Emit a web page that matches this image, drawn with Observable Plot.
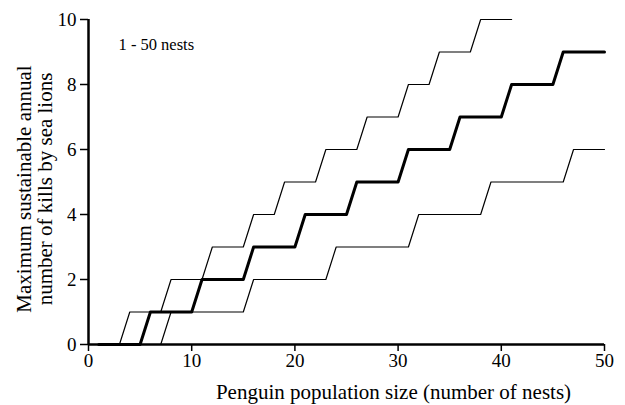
<!DOCTYPE html>
<html>
<head>
<meta charset="utf-8">
<script src="https://cdn.jsdelivr.net/npm/d3@7"></script>
<script src="https://cdn.jsdelivr.net/npm/@observablehq/plot@0.6"></script>
<style>
  html, body { margin: 0; padding: 0; background: #fff; }
</style>
</head>
<body>
<div id="chart"></div>
<script>
// Data
const upperX = [1,2,3,4,5,6,7,8,9,10,11,12,13,14,15,16,17,18,19,20,21,22,23,24,25,26,27,28,29,30,31,32,33,34,35,36,37,38,39,40,41];
const upperY = [0,0,0,1,1,1,1,2,2,2,2,3,3,3,3,4,4,4,5,5,5,5,6,6,6,6,7,7,7,7,8,8,8,9,9,9,9,10,10,10,10];

const middleX = [1,2,3,4,5,6,7,8,9,10,11,12,13,14,15,16,17,18,19,20,21,22,23,24,25,26,27,28,29,30,31,32,33,34,35,36,37,38,39,40,41,42,43,44,45,46,47,48,49,50];
const middleY = [0,0,0,0,0,1,1,1,1,1,2,2,2,2,2,3,3,3,3,3,4,4,4,4,4,5,5,5,5,5,6,6,6,6,6,7,7,7,7,7,8,8,8,8,8,9,9,9,9,9];

const lowerX = middleX;
const lowerY = [0,0,0,0,0,0,0,1,1,1,1,1,1,1,1,2,2,2,2,2,2,2,2,3,3,3,3,3,3,3,3,4,4,4,4,4,4,4,5,5,5,5,5,5,5,5,6,6,6,6];

const xTicks = [0,10,20,30,40,50];
const yTicks = [0,2,4,6,8,10];
const xLabel = "Penguin population size (number of nests)";
const yLabel = "Maximum sustainable annual\nnumber of kills by sea lions";
const note = "1 - 50 nests";

const toRows = (xs, ys) => xs.map((x, i) => ({x, y: ys[i]}));
const upper = toRows(upperX, upperY);
const middle = toRows(middleX, middleY);
const lower = toRows(lowerX, lowerY);

const chart = Plot.plot({
  width: 625,
  height: 405,
  marginLeft: 88,
  marginRight: 21,
  marginTop: 19,
  marginBottom: 61,
  style: {fontFamily: "'Liberation Serif', 'Times New Roman', serif", fontSize: "19px", color: "#000", background: "#fff"},
  x: {domain: [0, 50]},
  y: {domain: [0, 10]},
  marks: [
    Plot.axisX({ticks: xTicks, tickSize: 7, tickPadding: 2, strokeWidth: 1.5, label: null, fontSize: 19}),
    Plot.axisY({ticks: yTicks, tickSize: 8, tickPadding: 4, strokeWidth: 1.5, label: null, fontSize: 19}),
    Plot.ruleY([0], {x1: 0, x2: 50, strokeWidth: 2.5}),
    Plot.ruleX([0], {y1: 0, y2: 10, strokeWidth: 2.5}),
    Plot.line(lower, {x: "x", y: "y", strokeWidth: 1.2, stroke: "#000"}),
    Plot.line(upper, {x: "x", y: "y", strokeWidth: 1.2, stroke: "#000"}),
    Plot.line(middle, {x: "x", y: "y", strokeWidth: 3, stroke: "#000"}),
    Plot.text([xLabel], {frameAnchor: "bottom", dx: 47, dy: 48, lineAnchor: "middle", textAnchor: "middle", fontSize: 21}),
    Plot.text([yLabel], {frameAnchor: "left", rotate: -90, dx: -54, dy: 7, lineAnchor: "middle", textAnchor: "middle", fontSize: 21, lineHeight: 1.0}),
    Plot.text([note], {frameAnchor: "top-left", dx: 30, dy: 25, lineAnchor: "middle", textAnchor: "start", fontSize: 16.5})
  ]
});
document.getElementById("chart").appendChild(chart);
</script>
</body>
</html>
